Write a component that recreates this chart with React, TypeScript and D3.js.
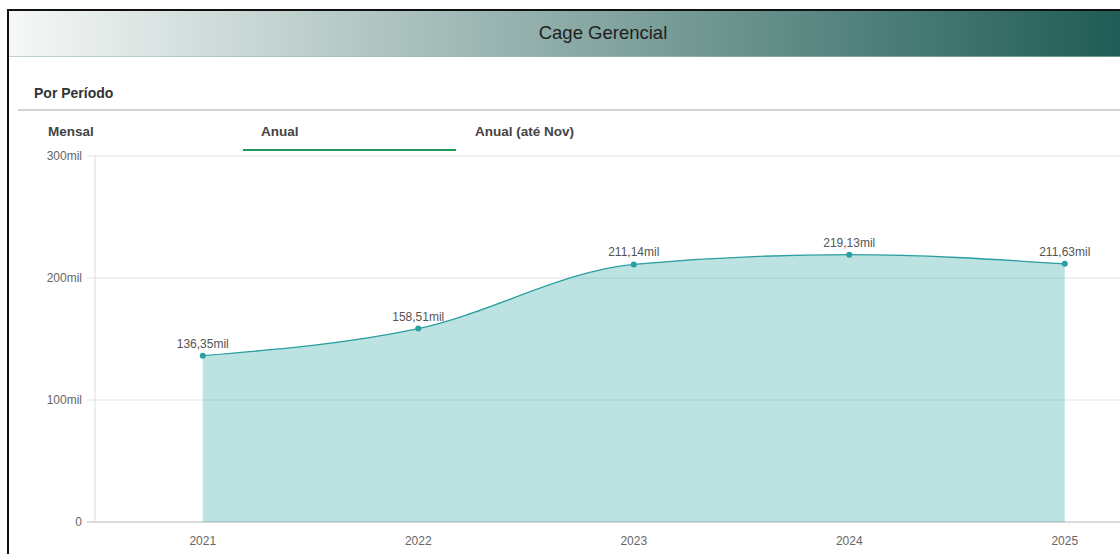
import React from "react";
import * as d3 from "d3";

const years = ["2021", "2022", "2023", "2024", "2025"];
const values = [136350, 158510, 211140, 219130, 211630];
const valueLabels = ["136,35mil", "158,51mil", "211,14mil", "219,13mil", "211,63mil"];
const yTicks = [0, 100000, 200000, 300000];
const yTickLabels = ["0", "100mil", "200mil", "300mil"];
const tabs = ["Mensal", "Anual", "Anual (até Nov)"];
const title = "Cage Gerencial";
const subtitle = "Por Período";

const W = 1120;
const H = 554;
const FONT = "'Liberation Sans', Arial, Helvetica, sans-serif";

export default function App() {
  const x = d3.scaleBand<string>().domain(years).range([95, 95 + 5 * 215.5]);
  const y = d3.scaleLinear().domain([0, 300000]).range([522, 156]);
  const cx = (yr: string) => (x(yr) as number) + x.bandwidth() / 2;

  const pts = years.map((yr, i) => ({ yr, v: values[i], label: valueLabels[i] }));

  const area = d3
    .area<{ yr: string; v: number }>()
    .x((d) => cx(d.yr))
    .y0(y(0))
    .y1((d) => y(d.v))
    .curve(d3.curveMonotoneX);
  const line = d3
    .line<{ yr: string; v: number }>()
    .x((d) => cx(d.yr))
    .y((d) => y(d.v))
    .curve(d3.curveMonotoneX);

  const tabX = [48, 261, 475];

  return (
    <div style={{ position: "absolute", left: 0, top: 0 }}>
      <svg width={W} height={H} style={{ display: "block" }} fontFamily={FONT}>
        <defs>
          <linearGradient id="hdr" x1="0" y1="0" x2="1" y2="0">
            <stop offset="0%" stopColor="#f6f8f7" />
            <stop offset="50%" stopColor="#8cabA7" />
            <stop offset="100%" stopColor="#1f5c55" />
          </linearGradient>
        </defs>
        <rect x={0} y={0} width={W} height={H} fill="#ffffff" />
        {/* header */}
        <rect x={9} y={11} width={W - 9} height={46} fill="url(#hdr)" />
        <line x1={9} x2={W} y1={56.5} y2={56.5} stroke="#9fb9b5" strokeWidth={1} opacity={0.6} />
        <text x={603} y={39} textAnchor="middle" fontSize={18.5} fill="#1e1e1e">
          {title}
        </text>
        {/* outer border */}
        <line x1={8} x2={8} y1={9} y2={H} stroke="#111" strokeWidth={2} />
        <line x1={7} x2={W} y1={10} y2={10} stroke="#111" strokeWidth={2} />

        <text x={34} y={98} fontSize={14} fontWeight="bold" fill="#333">
          {subtitle}
        </text>
        <line x1={18} x2={W} y1={110} y2={110} stroke="#c4c4c4" strokeWidth={1.5} />

        {tabs.map((t, i) => (
          <text key={t} x={tabX[i]} y={136} fontSize={13.5} fontWeight="bold" fill="#444">
            {t}
          </text>
        ))}
        <line x1={243} x2={456} y1={150} y2={150} stroke="#1f9a5a" strokeWidth={2.2} />

        {/* grid */}
        {yTicks.map((t, i) => (
          <g key={t}>
            <line
              x1={87}
              x2={W}
              y1={y(t)}
              y2={y(t)}
              stroke={t === 0 ? "#cfcfcf" : "#e3e3e3"}
              strokeWidth={t === 0 ? 1.5 : 1}
            />
            <text
              x={82}
              y={y(t) + 4}
              textAnchor="end"
              fontSize={12}
              fill="#666"
            >
              {yTickLabels[i]}
            </text>
          </g>
        ))}
        <line x1={95} x2={95} y1={156} y2={522} stroke="#dcdcdc" strokeWidth={1} />

        {/* area */}
        <path d={area(pts) || ""} fill="rgb(42,160,163)" fillOpacity={0.31} />
        <path d={line(pts) || ""} fill="none" stroke="#2a9ea0" strokeWidth={1.3} />
        {pts.map((p) => (
          <g key={p.yr}>
            <circle cx={cx(p.yr)} cy={y(p.v)} r={3} fill="#2a9ea0" />
            <text
              x={cx(p.yr)}
              y={y(p.v) - 8}
              textAnchor="middle"
              fontSize={12}
              fill="#555"
            >
              {p.label}
            </text>
          </g>
        ))}

        {/* x labels */}
        {years.map((yr) => (
          <text key={yr} x={cx(yr)} y={545} textAnchor="middle" fontSize={12} fill="#666">
            {yr}
          </text>
        ))}
      </svg>
    </div>
  );
}
